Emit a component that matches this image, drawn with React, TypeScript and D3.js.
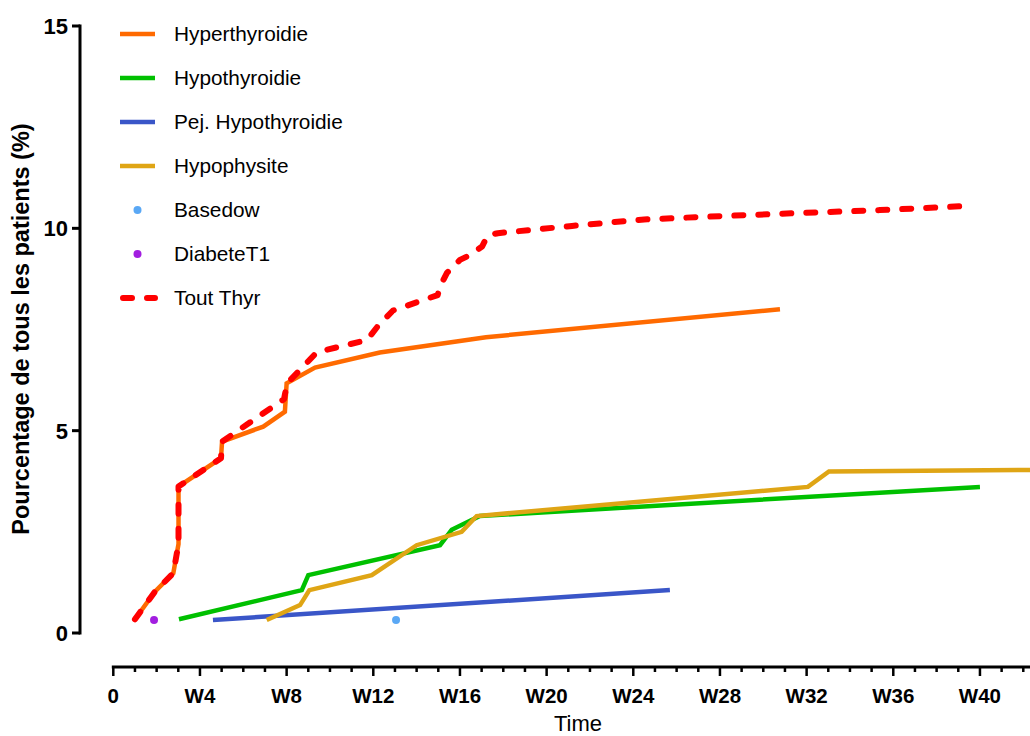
import React from "react";
import * as d3 from "d3";

const hyperWeeks = [1.0, 1.92, 2.77, 3.01, 3.01, 4.97, 5.02, 6.92, 7.92, 8.0, 9.31, 12.3, 17.2, 30.77];
const hyperVals = [0.34, 1.02, 1.48, 2.2, 3.62, 4.32, 4.73, 5.1, 5.47, 6.17, 6.56, 6.93, 7.31, 8.0];

const hypoWeeks = [3.03, 8.7, 9.0, 15.08, 15.62, 16.92, 40.0];
const hypoVals = [0.34, 1.06, 1.43, 2.17, 2.55, 2.89, 3.61];

const pejWeeks = [4.6, 25.69];
const pejVals = [0.32, 1.06];

const hypophWeeks = [7.08, 8.62, 9.05, 11.93, 14.0, 16.08, 16.77, 32.06, 33.03, 42.31];
const hypophVals = [0.32, 0.69, 1.06, 1.43, 2.17, 2.5, 2.89, 3.61, 3.99, 4.03];

const basedowWeeks = [13.05];
const basedowVals = [0.32];

const diabWeeks = [1.88];
const diabVals = [0.32];

const toutWeeks = [1.0, 1.92, 2.77, 3.01, 3.01, 4.97, 5.02, 7.88, 8.02, 9.4, 11.71, 12.22, 12.91, 14.97, 15.08, 15.4, 16.0, 16.46, 17.02, 17.29, 17.75, 21.17, 24.5, 28.0, 31.7, 35.38, 39.72];
const toutVals = [0.34, 1.02, 1.48, 2.2, 3.62, 4.32, 4.73, 5.78, 6.17, 6.94, 7.24, 7.59, 7.97, 8.35, 8.56, 8.9, 9.22, 9.34, 9.55, 9.83, 9.88, 10.06, 10.22, 10.3, 10.38, 10.45, 10.56];

const xMajorTicks = [0, 4, 8, 12, 16, 20, 24, 28, 32, 36, 40];
const xTickLabels = ["0", "W4", "W8", "W12", "W16", "W20", "W24", "W28", "W32", "W36", "W40"];
const yTicks = [0, 5, 10, 15];

const legendNames = ["Hyperthyroidie", "Hypothyroidie", "Pej. Hypothyroidie", "Hypophysite", "Basedow", "DiabeteT1", "Tout Thyr"];

const FONT = "'Liberation Sans', Arial, Helvetica, sans-serif";

export default function App() {
  const W = 1030, H = 736;
  const x = d3.scaleLinear().domain([0, 42.31]).range([113.3, 1030]);
  const y = d3.scaleLinear().domain([0, 15]).range([633, 26]);
  const line = d3.line<[number, number]>().x(d => x(d[0])).y(d => y(d[1]));
  const zip = (a: number[], b: number[]) => a.map((v, i) => [v, b[i]] as [number, number]);

  const lines = [
    { name: legendNames[0], color: "#FF6A00", d: zip(hyperWeeks, hyperVals), type: "line" },
    { name: legendNames[1], color: "#00C000", d: zip(hypoWeeks, hypoVals), type: "line" },
    { name: legendNames[2], color: "#3A56C8", d: zip(pejWeeks, pejVals), type: "line" },
    { name: legendNames[3], color: "#DFA515", d: zip(hypophWeeks, hypophVals), type: "line" },
    { name: legendNames[4], color: "#5AA8F5", d: zip(basedowWeeks, basedowVals), type: "point" },
    { name: legendNames[5], color: "#A21EE0", d: zip(diabWeeks, diabVals), type: "point" },
    { name: legendNames[6], color: "#FF0000", d: zip(toutWeeks, toutVals), type: "dash" },
  ];

  const minorTicks = d3.range(0, 43, 1);
  const axisY = 667;

  return (
    <svg width={W} height={H} style={{ position: "absolute", left: 0, top: 0, background: "#fff" }} fontFamily={FONT}>
      <rect x={0} y={0} width={W} height={H} fill="#fff" />
      {/* Y axis */}
      <line x1={80} x2={80} y1={y(0) + 1.5} y2={y(15) - 1.5} stroke="#000" strokeWidth={3} />
      {yTicks.map(t => (
        <g key={t}>
          <line x1={72} x2={80} y1={y(t)} y2={y(t)} stroke="#000" strokeWidth={3} />
          <text x={68} y={y(t)} dy="0.36em" textAnchor="end" fontWeight="bold" fontSize={22}>{t}</text>
        </g>
      ))}
      <text transform={`translate(29,329) rotate(-90)`} textAnchor="middle" fontWeight="bold" fontSize={23.5}>Pourcentage de tous les patients (%)</text>

      {/* X axis */}
      <line x1={x(0) - 1.5} x2={1030} y1={axisY} y2={axisY} stroke="#000" strokeWidth={3} />
      {minorTicks.map(t => (
        <line key={"m" + t} x1={x(t)} x2={x(t)} y1={axisY} y2={axisY + (t % 4 === 0 ? 9 : 5)} stroke="#000" strokeWidth={2.5} />
      ))}
      {xMajorTicks.map((t, i) => (
        <text key={"l" + t} x={x(t)} y={703} textAnchor="middle" fontWeight="bold" fontSize={20.5}>{xTickLabels[i]}</text>
      ))}
      <text x={578} y={731} textAnchor="middle" fontSize={22}>Time</text>

      {/* series */}
      {lines.filter(s => s.type === "line").map(s => (
        <path key={s.name} d={line(s.d) || ""} fill="none" stroke={s.color} strokeWidth={4.5} strokeLinejoin="miter" />
      ))}
      {lines.filter(s => s.type === "point").map(s => s.d.map((p, i) => (
        <circle key={s.name + i} cx={x(p[0])} cy={y(p[1])} r={4} fill={s.color} />
      )))}
      {lines.filter(s => s.type === "dash").map(s => (
        <path key={s.name} d={line(s.d) || ""} fill="none" stroke={s.color} strokeWidth={6} strokeDasharray="9 15" strokeLinecap="round" strokeLinejoin="round" />
      ))}

      {/* legend */}
      {lines.map((s, i) => {
        const ly = 34 + 44 * i;
        return (
          <g key={"lg" + s.name}>
            {s.type === "line" && <line x1={120} x2={155} y1={ly} y2={ly} stroke={s.color} strokeWidth={4.5} />}
            {s.type === "point" && <circle cx={137.5} cy={ly} r={4} fill={s.color} />}
            {s.type === "dash" && <line x1={123} x2={155} y1={ly} y2={ly} stroke={s.color} strokeWidth={6} strokeDasharray="9 15" strokeLinecap="round" />}
            <text x={174} y={ly} dy="0.36em" fontSize={20.8}>{s.name}</text>
          </g>
        );
      })}
    </svg>
  );
}
